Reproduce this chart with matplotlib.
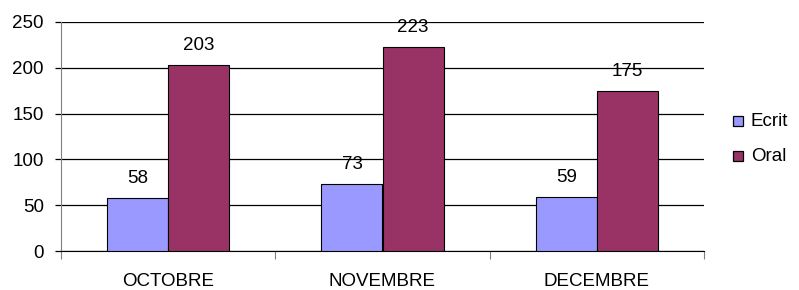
import numpy as np
import matplotlib.pyplot as plt
from matplotlib.patches import Rectangle

plt.rcParams["font.family"] = ["Liberation Sans", "DejaVu Sans"]

months = ["OCTOBRE", "NOVEMBRE", "DECEMBRE"]
series = ["Ecrit", "Oral"]
ecrit = [58, 73, 59]
oral = [203, 223, 175]
colors = ["#9999FF", "#993366"]

W, H = 799, 290
fig = plt.figure(figsize=(W / 100, H / 100), dpi=100)
ax = fig.add_axes([61 / W, 39 / H, 643 / W, 229 / H])

x = np.arange(len(months))
w = 0.285
b1 = ax.bar(x - w / 2, ecrit, width=w, color=colors[0], edgecolor="black", linewidth=0.8, zorder=3)
b2 = ax.bar(x + w / 2, oral, width=w, color=colors[1], edgecolor="black", linewidth=0.8, zorder=3)

# value labels above each bar
for rects, vals in ((b1, ecrit), (b2, oral)):
    for r, v in zip(rects, vals):
        ax.text(r.get_x() + r.get_width() / 2, v + 16, str(v), ha="center", va="baseline", fontsize=13.5)

ax.set_xlim(-0.5, 2.5)
ax.set_ylim(0, 250)
ax.set_yticks(range(0, 251, 50))
ax.yaxis.grid(True, color="black", linewidth=0.9, zorder=0)
ax.set_axisbelow(True)

# ticks at category borders, labels in the middle
ax.set_xticks([-0.5, 0.5, 1.5, 2.5])
ax.set_xticklabels([])
ax.set_xticks(x, minor=True)
ax.set_xticklabels(months, minor=True, fontsize=13.5)
ax.tick_params(axis="x", which="major", length=6, color="#808080")
ax.tick_params(axis="x", which="minor", length=0, pad=16)
ax.tick_params(axis="y", length=4.3, width=0.9, color="black", labelsize=13.5, pad=8)

for s in ("top", "right"):
    ax.spines[s].set_visible(False)
ax.spines["left"].set_color("#808080")
ax.spines["bottom"].set_color("black")

# legend drawn by hand to match spacing
for name, col, yc in zip(series, colors, [121.5, 156.5]):
    fig.patches.append(Rectangle((733 / W, 1 - (yc + 5) / H), 10 / W, 10 / H, transform=fig.transFigure,
                                 facecolor=col, edgecolor="black", linewidth=0.9))
    fig.text(751 / W, 1 - yc / H, name, ha="left", va="center", fontsize=13.5)

fig.savefig("out.png", dpi=100)
